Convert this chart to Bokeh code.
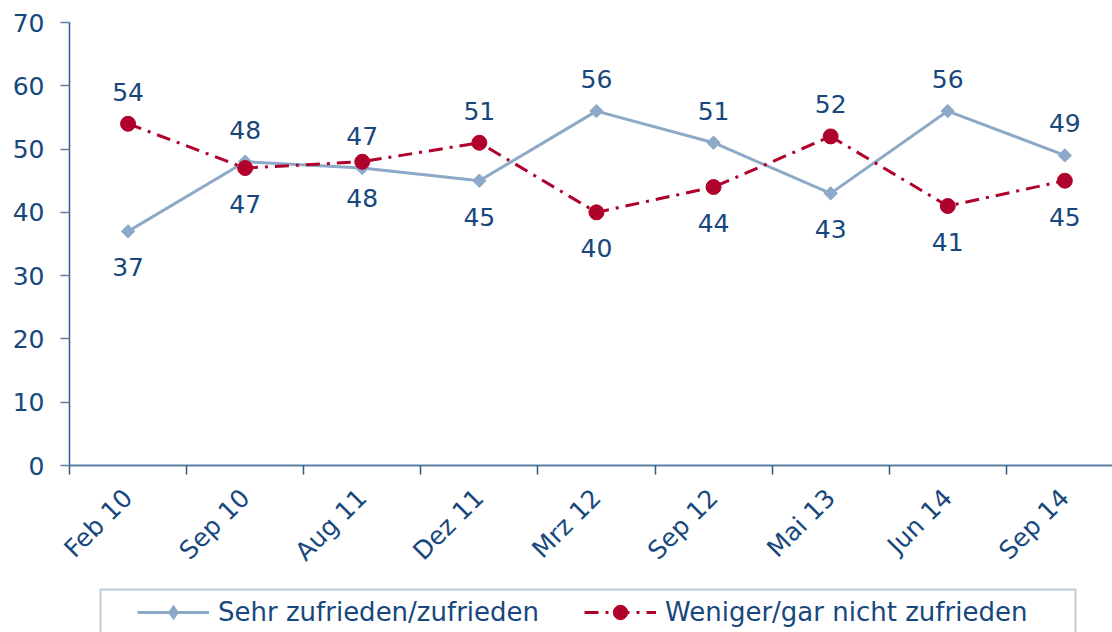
import numpy as np
from bokeh.plotting import figure
from bokeh.models import (ColumnDataSource, Range1d, FixedTicker, Legend, LegendItem, BoxAnnotation,
                          CDSView, IndexFilter)
from bokeh.core.properties import value
from bokeh.embed import file_html
from bokeh.resources import INLINE

categories = ["Feb 10", "Sep 10", "Aug 11", "Dez 11", "Mrz 12", "Sep 12", "Mai 13", "Jun 14", "Sep 14"]
sehr_zufrieden = [37, 48, 47, 45, 56, 51, 43, 56, 49]
weniger_zufrieden = [54, 47, 48, 51, 40, 44, 52, 41, 45]
y_ticks = [0, 10, 20, 30, 40, 50, 60, 70]

# label placement (style): +1 above, -1 below
sehr_pos = [-1, 1, 1, -1, 1, 1, -1, 1, 1]
weniger_pos = [1, -1, -1, 1, -1, -1, 1, -1, -1]

TEXT = "#17477C"
BLUE = "#8DA9C8"
RED = "#B0002C"
FONT = "DejaVu Sans"
FS = "25px"

xs = list(range(len(categories)))

W, H = 1112, 632
axis_x_px = 69          # canvas x of the y axis (category boundary -0.5)
top_px = 22             # canvas y of value 70
zero_px = 465           # canvas y of value 0
px_per_cat = 117.1
px_per_unit = (zero_px - top_px) / 70.0
x_start = -0.5 - axis_x_px / px_per_cat
x_end = -0.5 + (W - axis_x_px) / px_per_cat
y_start = -(H - zero_px) / px_per_unit
y_end = 70 + top_px / px_per_unit

p = figure(width=W, height=H, output_backend="svg", toolbar_location=None,
           x_range=Range1d(x_start, x_end), y_range=Range1d(y_start, y_end),
           min_border=0)
p.outline_line_color = None
p.xgrid.visible = False
p.ygrid.visible = False
p.background_fill_color = "white"
p.border_fill_color = "white"

# y axis (drawn at category boundary -0.5)
p.yaxis.fixed_location = -0.5
p.yaxis.bounds = (0, 70)
p.yaxis.ticker = FixedTicker(ticks=y_ticks, minor_ticks=[])
p.yaxis.axis_line_color = "#2E5A8A"
p.yaxis.axis_line_width = 1.5
p.yaxis.major_tick_line_color = "#5B7FA6"
p.yaxis.major_tick_line_width = 1.5
p.yaxis.major_tick_out = 9
p.yaxis.major_tick_in = 0
p.yaxis.minor_tick_line_color = None
p.yaxis.major_label_text_font = FONT
p.yaxis.major_label_text_font_size = FS
p.yaxis.major_label_text_color = TEXT
p.yaxis.major_label_standoff = 16

# x axis (drawn at value 0)
p.xaxis.fixed_location = 0
p.xaxis.bounds = (-0.5, x_end)
p.xaxis.ticker = FixedTicker(ticks=xs, minor_ticks=[i - 0.5 for i in range(len(categories) + 1)])
p.xaxis.major_label_overrides = {i: c for i, c in enumerate(categories)}
p.xaxis.axis_line_color = "#5B7FA6"
p.xaxis.axis_line_width = 2
p.xaxis.major_tick_line_color = None
p.xaxis.major_tick_out = 0
p.xaxis.major_tick_in = 0
p.xaxis.minor_tick_line_color = "#2E5A8A"
p.xaxis.minor_tick_line_width = 1.5
p.xaxis.minor_tick_out = 9
p.xaxis.minor_tick_in = 0
p.xaxis.major_label_orientation = np.pi / 4
p.xaxis.major_label_text_font = FONT
p.xaxis.major_label_text_font_size = FS
p.xaxis.major_label_text_color = TEXT
p.xaxis.major_label_standoff = 19

src_a = ColumnDataSource(dict(x=xs, y=sehr_zufrieden, t=[str(v) for v in sehr_zufrieden],
                              off=[-32 if s > 0 else 36 for s in sehr_pos]))
src_b = ColumnDataSource(dict(x=xs, y=weniger_zufrieden, t=[str(v) for v in weniger_zufrieden],
                              off=[-32 if s > 0 else 36 for s in weniger_pos]))

la = p.line("x", "y", source=src_a, line_color=BLUE, line_width=3)
ma = p.scatter("x", "y", source=src_a, marker="square", angle=np.pi / 4, size=9.5,
               fill_color=BLUE, line_color=BLUE)
lb = p.line("x", "y", source=src_b, line_color=RED, line_width=3, line_dash="14 7 3 7")
mb = p.scatter("x", "y", source=src_b, marker="circle", size=15,
               fill_color=RED, line_color=RED)

# legend diamond glyph (only its first point is drawn, hidden inside the existing marker)
ma_leg = p.scatter("x", "y", source=src_a, view=CDSView(filter=IndexFilter(indices=[0])),
                   marker="diamond", size=7, fill_color=BLUE, line_color=BLUE)

for src in (src_a, src_b):
    p.text("x", "y", text="t", source=src, y_offset="off",
           text_font=value(FONT), text_font_size=FS, text_color=TEXT,
           text_align="center", text_baseline="middle")

# legend frame
p.add_layout(BoxAnnotation(left=100, right=1075, top=589, bottom=660,
                           left_units="canvas", right_units="canvas",
                           top_units="canvas", bottom_units="canvas",
                           fill_alpha=0, line_color="#1F4E79", line_width=2))

legend = Legend(items=[
    LegendItem(label="Sehr zufrieden/zufrieden", renderers=[la, ma_leg], index=0),
    LegendItem(label="Weniger/gar nicht zufrieden", renderers=[lb, mb]),
], location=(137, 2), orientation="horizontal")
legend.label_text_font = FONT
legend.label_text_font_size = "26px"
legend.label_text_color = TEXT
legend.border_line_color = None
legend.background_fill_alpha = 0
legend.padding = 11
legend.margin = 0
legend.spacing = 45
legend.glyph_width = 72
legend.glyph_height = 36
legend.label_standoff = 9
p.add_layout(legend, "center")

open("out.html", "w").write(file_html(p, INLINE))
